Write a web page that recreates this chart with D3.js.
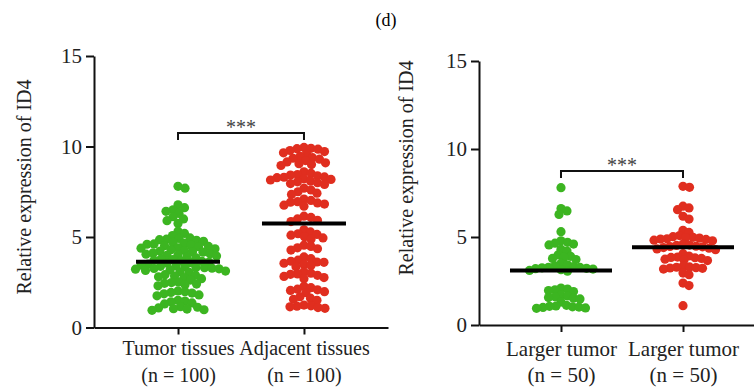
<!DOCTYPE html>
<html>
<head>
<meta charset="utf-8">
<script src="https://cdn.jsdelivr.net/npm/d3@7/dist/d3.min.js"></script>
<style>
  body { margin: 0; background: #fff; }
  svg { display: block; font-family: "Liberation Serif", "Times New Roman", serif; }
</style>
</head>
<body>
<div class="chartContainer"></div>
<script>
// tick values and labels
const yTicks = [0, 5, 10, 15];
const leftCategories = ["Tumor tissues", "Adjacent tissues"];
const leftCounts = ["(n = 100)", "(n = 100)"];
const rightCategories = ["Larger tumor", "Larger tumor"];
const rightCounts = ["(n = 50)", "(n = 50)"];

// relative expression of ID4
const tumorTissues = [
  7.70, 7.80,
  6.78, 6.62, 6.50, 6.42, 6.30,
  6.12, 6.00, 5.90, 5.75,
  5.32, 5.20, 5.08,
  4.95, 4.88, 4.82, 4.76, 4.85, 4.70, 4.92, 4.66,
  4.60, 4.52, 4.46, 4.40, 4.55, 4.35, 4.62, 4.30, 4.48, 4.38,
  4.22, 4.12, 4.05, 3.98, 4.16, 3.95, 4.25, 3.90, 4.08, 4.18, 3.85, 4.02,
  3.78, 3.68, 3.62, 3.55, 3.72, 3.50, 3.75, 3.58, 3.65, 3.45,
  3.40, 3.32, 3.26, 3.18, 3.36, 3.12, 3.28, 3.22, 3.08, 3.30, 3.38, 3.15, 3.24, 3.05,
  2.92, 2.84, 2.76, 2.88, 2.70, 2.80, 2.62,
  2.52, 2.44, 2.36, 2.48, 2.30, 2.40,
  2.02, 1.94, 1.86, 1.98, 1.80, 1.90, 1.75,
  1.50, 1.42, 1.36, 1.46, 1.30,
  1.12, 1.04, 0.98, 1.08, 0.95, 1.02, 1.15
];
const adjacentTissues = [
  9.95, 9.90, 9.85, 9.78, 9.72, 9.65, 9.60, 9.88,
  9.45, 9.38, 9.30, 9.22, 9.15, 9.10, 9.05, 9.00, 9.35, 8.95,
  8.60, 8.52, 8.45, 8.38, 8.32, 8.28, 8.22, 8.15, 8.10, 8.05, 8.00, 7.95, 7.90, 8.42, 8.18, 8.30,
  7.70, 7.60, 7.50, 7.42, 7.35,
  7.10, 7.02, 6.95, 6.88, 6.82, 6.76, 6.70, 6.92,
  6.15, 6.08, 6.00, 5.92, 5.85,
  5.40, 5.28, 5.18, 5.10, 5.02, 4.95, 4.88, 5.14,
  4.55, 4.48, 4.40, 4.35, 4.28,
  3.90, 3.80, 3.72, 3.66, 3.60, 3.55, 3.48, 3.42, 3.36, 3.62,
  3.08, 3.00, 2.94, 2.88, 2.82, 2.76, 2.70, 2.96,
  2.28, 2.20, 2.12, 2.05, 1.98, 1.92, 2.08,
  1.70, 1.62, 1.56, 1.50,
  1.24, 1.18, 1.14, 1.10, 1.06, 1.20
];
const largerTumorA = [
  7.80,
  6.62, 6.48, 6.28,
  5.30,
  4.78, 4.70, 4.65, 4.60, 4.55,
  4.30, 4.20,
  3.98, 3.90, 3.85, 3.78, 3.72,
  3.42, 3.36, 3.32, 3.28, 3.25, 3.20, 3.18, 3.14, 3.10, 3.06, 3.27, 3.22, 3.50,
  2.10, 2.04, 2.00, 1.96, 1.90,
  1.70, 1.65, 1.60, 1.56, 1.52, 1.48,
  1.30,
  1.08, 1.03, 1.00, 0.97, 1.06, 1.02, 0.95, 1.12
];
const largerTumorB = [
  7.88, 7.82,
  6.75, 6.65, 6.55,
  6.18, 6.02,
  5.38, 5.26,
  5.08, 5.02, 4.98, 4.94, 4.90, 4.86, 4.82, 4.78, 4.96, 4.88,
  4.60, 4.54, 4.48, 4.44, 4.40, 4.36, 4.32, 4.52, 4.46, 4.28,
  4.05,
  3.92, 3.86, 3.82, 3.78, 3.74, 3.70, 3.66, 3.84,
  3.34, 3.30, 3.26, 3.22, 3.18, 3.28, 3.24,
  2.95, 2.86,
  2.38, 2.24,
  1.10
];

const colors = ["#3cb521", "#e02e1f"];
const dotR = 4.6;

const svg = d3.select(".chartContainer").append("svg")
  .attr("width", 754)
  .attr("height", 391);

svg.append("text")
  .attr("x", 386).attr("y", 26)
  .attr("text-anchor", "middle")
  .style("font-size", "18px")
  .text("(d)");

// simple beeswarm: place each dot as close to centre as it can go
function swarm(values, y, minDist) {
  const placed = [];
  const pts = values.map(v => ({ v: v, y: y(v) })).sort((a, b) => a.y - b.y);
  pts.forEach(p => {
    let off = 0;
    for (let k = 0; k < 400; k++) {
      const cand = (k % 2 ? 1 : -1) * Math.ceil(k / 2) * 0.5;
      const hit = placed.some(q => {
        const dx = q.off - cand, dy = q.y - p.y;
        return dx * dx + dy * dy < minDist * minDist;
      });
      if (!hit) { off = cand; break; }
    }
    p.off = off;
    placed.push(p);
  });
  return pts;
}

function drawPanel(opt) {
  const x = d3.scalePoint().domain([0, 1]).range(opt.xRange).padding(opt.pad);
  const y = d3.scaleLinear().domain([0, 15]).range(opt.yRange);
  const g = svg.append("g");

  const yAxis = g.append("g")
    .attr("transform", `translate(${opt.xRange[0]},0)`)
    .call(d3.axisLeft(y).tickValues(yTicks).tickSize(8).tickSizeOuter(0).tickPadding(4));
  const xAxis = g.append("g")
    .attr("transform", `translate(0,${opt.yRange[0]})`)
    .call(d3.axisBottom(x).tickSize(7).tickSizeOuter(0).tickFormat(""));

  [yAxis, xAxis].forEach(a => {
    a.attr("font-family", "Liberation Serif");
    a.selectAll("path, line").attr("stroke", "#111").attr("stroke-width", 2);
    a.selectAll("text").style("font-size", "21px").attr("fill", "#222");
  });

  // two-line category labels under each tick
  xAxis.selectAll(".tick").each(function (i) {
    const t = d3.select(this).append("text")
      .attr("text-anchor", "middle")
      .attr("fill", "#222")
      .style("font-size", opt.labSize + "px");
    t.append("tspan").attr("x", 0).attr("y", opt.lab1).text(opt.cats[i]);
    t.append("tspan").attr("x", 0).attr("y", opt.lab2).text(opt.counts[i]);
  });

  g.append("text")
    .attr("transform", `translate(${opt.titleX},${opt.titleY}) rotate(-90)`)
    .attr("text-anchor", "middle")
    .attr("fill", "#222")
    .style("font-size", "20px")
    .text("Relative expression of ID4");

  opt.series.forEach((vals, i) => {
    const pts = swarm(vals, y, opt.minDist);
    g.append("g").selectAll("circle")
      .data(pts)
      .enter()
      .append("circle")
      .attr("cx", d => x(i) + d.off)
      .attr("cy", d => d.y)
      .attr("r", dotR)
      .attr("fill", colors[i]);

    const m = d3.mean(vals);
    g.append("line")
      .attr("x1", x(i) - opt.meanHalf).attr("x2", x(i) + opt.meanHalf)
      .attr("y1", y(m)).attr("y2", y(m))
      .attr("stroke", "#000").attr("stroke-width", 4);
  });

  // significance bracket
  const by = y(opt.bracket);
  g.append("path")
    .attr("d", `M${x(0)},${by + 7}V${by}H${x(1)}V${by + 7}`)
    .attr("fill", "none").attr("stroke", "#111").attr("stroke-width", 2);
  g.append("text")
    .attr("x", (x(0) + x(1)) / 2).attr("y", by + 1)
    .attr("text-anchor", "middle")
    .attr("fill", "#444")
    .style("font-size", "20px")
    .text("***");
}

drawPanel({
  xRange: [94, 388], yRange: [327.5, 56], pad: 0.667,
  cats: leftCategories, counts: leftCounts, labSize: 20,
  series: [tumorTissues, adjacentTissues],
  lab1: 27.5, lab2: 54.5, titleX: 31, titleY: 187,
  meanHalf: 42, bracket: 10.75, minDist: 6.8
});

drawPanel({
  xRange: [479, 765], yRange: [325, 61], pad: 0.672,
  cats: rightCategories, counts: rightCounts, labSize: 21,
  series: [largerTumorA, largerTumorB],
  lab1: 31, lab2: 57, titleX: 413, titleY: 168,
  meanHalf: 51, bracket: 8.75, minDist: 6.2
});
</script>
</body>
</html>
